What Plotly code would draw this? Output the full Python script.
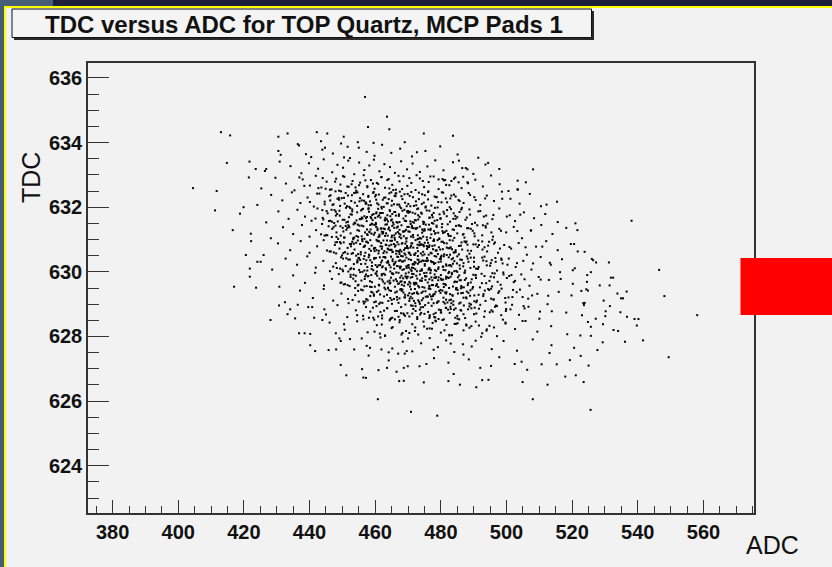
import plotly.graph_objects as go

# ---------------- data (read / estimated from the picture) ----------------
title_text = "TDC versus ADC for TOP Quartz, MCP Pads 1"
x_title = "ADC"
y_title = "TDC"
x_range = [372.5, 575.4]
y_range = [622.54, 636.46]

# isolated points around the edges of the cloud
adc_sparse = [456.9, 463.6, 457.8, 464.3, 413.0, 415.8, 474.8, 430.5, 433.3, 442.2, 445.4, 443.5, 450.4, 454.7,
              459.5, 469.0, 436.4, 444.7, 451.6, 430.5, 472.7, 438.9, 450.5, 414.8, 421.7, 423.6, 426.8, 411.7,
              411.2, 416.6, 418.8, 419.9, 421.5, 417.0, 420.6, 422.1, 422.2, 421.8, 421.8, 423.7, 424.1, 425.1,
              404.5,
              483.7, 485.5, 494.4, 508.1, 487.6, 488.1, 486.8, 480.5, 481.3, 483.2, 485.4, 503.5, 515.4, 512.2, 503.3,
              428.1, 430.7, 433.3, 434.1, 436.8, 438.5, 440.2, 441.7, 436.4, 439.6, 441.4, 443.9, 444.5, 448.0,
              449.1, 449.5, 448.1, 450.5, 451.2, 453.6, 456.0, 456.4, 455.9, 458.4, 461.0, 460.8, 463.6, 461.9,
              464.1, 467.0, 469.6, 468.7, 469.9, 468.7,
              470.9, 478.9, 508.0, 525.6, 467.3, 482.3, 485.8, 490.8, 492.6, 504.9, 512.5, 523.5, 517.9, 521.1,
              525.0, 515.3, 510.7, 502.5, 495.3, 522.6, 527.7, 519.3, 534.0, 536.1, 541.6, 549.4, 539.7, 536.7,
              539.0, 540.2, 558.1, 534.7, 548.1, 536.6, 534.9, 535.5, 529.4, 528.4, 531.5, 530.2, 531.2, 546.5,
              538.1, 531.8, 532.5, 526.0, 526.4, 525.7, 524.5, 522.8, 523.8, 523.0, 525.7, 527.2, 525.7, 522.5,
              521.0, 521.6, 520.6, 521.7, 520.2, 524.8, 523.4]
tdc_sparse = [635.41, 634.80, 634.48, 634.41, 634.32, 634.22, 634.28, 634.18, 634.28, 634.32, 634.28, 634.04, 634.18, 634.01,
              633.99, 634.01, 633.95, 633.84, 633.87, 633.74, 633.70, 633.64, 633.54, 633.37, 633.41, 633.18, 633.18, 632.50,
              631.90, 631.29, 631.80, 632.00, 632.92, 629.54, 630.52, 631.18, 630.95, 630.10, 629.85, 629.51, 630.31, 630.31,
              632.59,
              634.21, 633.44, 633.37, 633.17, 633.21, 633.17, 632.94, 632.87, 632.84, 632.81, 632.77, 632.55, 632.17, 632.08, 632.55,
              628.51, 628.96, 628.69, 628.84, 628.10, 628.10, 627.73, 627.55, 628.98, 628.91, 628.58, 628.51, 628.84, 628.10,
              627.94, 627.86, 627.60, 628.38, 626.80, 627.60, 626.99, 626.73, 627.94, 627.65, 626.96, 626.06, 627.03, 627.60,
              627.51, 627.47, 627.55, 627.03, 627.08, 626.63,
              625.67, 625.55, 626.06, 625.73, 626.62, 626.62, 626.51, 626.43, 626.65, 626.59, 626.51, 626.59, 626.76, 626.80,
              627.10, 627.14, 627.14, 627.15, 627.09, 627.40, 627.58, 627.27, 628.17, 627.84, 627.88, 627.36, 628.34, 628.61,
              628.54, 628.54, 628.66, 628.75, 629.25, 629.39, 629.18, 629.18, 628.38, 629.58, 628.94, 628.78, 630.29, 630.06,
              631.58, 629.82, 629.82, 630.40, 630.36, 629.99, 629.69, 629.41, 629.04, 628.66, 628.30, 628.55, 628.02, 628.03,
              631.50, 631.29, 630.86, 630.63, 630.05, 629.42, 629.03]

# main body of the cloud, band by band (TDC bands of 0.5)
adc_bands = [
    [431.2, 436.8, 440.5, 443.9, 447.1, 449.6, 452.3, 455.0, 457.4, 459.8, 462.1, 464.9, 467.6, 471.2, 475.3, 479.8, 485.1, 491.4],
    [426.4, 430.9, 434.2, 437.5, 439.8, 442.6, 444.3, 446.9, 448.5, 450.2, 451.8, 453.6, 455.1, 456.7, 458.2, 459.6,
     461.3, 462.8, 464.5, 466.0, 467.9, 469.7, 471.4, 473.6, 475.9, 478.3, 480.8, 483.7, 486.5, 489.9, 493.6, 497.8],
    [425.3, 429.6, 432.8, 435.4, 437.9, 440.1, 441.9, 443.6, 445.2, 446.7, 448.1, 449.4, 450.6, 451.9, 453.1, 454.2,
     455.4, 456.5, 457.6, 458.7, 459.8, 460.9, 461.9, 463.0, 464.1, 465.2, 466.3, 467.4, 468.6, 469.8, 471.0, 472.3,
     473.6, 474.9, 476.3, 477.8, 479.3, 480.9, 482.6, 484.4, 486.3, 488.3, 490.5, 492.8, 495.3, 497.9, 500.6, 503.4,
     505.9, 444.0],
    [424.1, 428.3, 431.7, 434.6, 437.2, 439.4, 441.3, 443.0, 444.6, 446.0, 447.3, 448.5, 449.6, 450.7, 451.7, 452.7,
     453.6, 454.5, 455.4, 456.3, 457.1, 457.9, 458.7, 459.5, 460.3, 461.1, 461.9, 462.7, 463.5, 464.3, 465.1, 465.9,
     466.7, 467.5, 468.3, 469.1, 469.9, 470.7, 471.5, 472.4, 473.3, 474.2, 475.1, 476.1, 477.1, 478.1, 479.2, 480.3,
     481.5, 482.7, 484.0, 485.4, 486.9, 488.5, 490.2, 492.0, 494.0, 496.2, 498.6, 501.2, 504.0, 507.1, 510.5, 448.9, 466.2],
    [426.8, 430.5, 433.6, 436.3, 438.6, 440.6, 442.4, 444.0, 445.5, 446.8, 448.0, 449.1, 450.1, 451.1, 452.0, 452.9,
     453.7, 454.5, 455.3, 456.0, 456.7, 457.4, 458.1, 458.8, 459.5, 460.2, 460.9, 461.6, 462.3, 463.0, 463.7, 464.4,
     465.1, 465.8, 466.5, 467.2, 467.9, 468.6, 469.3, 470.0, 470.7, 471.4, 472.1, 472.8, 473.5, 474.2, 474.9, 475.7,
     476.5, 477.3, 478.1, 479.0, 479.9, 480.8, 481.8, 482.8, 483.9, 485.0, 486.2, 487.5, 488.9, 490.4, 492.0, 493.8,
     495.7, 497.8, 500.1, 502.6, 505.3, 508.4, 511.8, 515.6, 447.6, 455.9, 461.2, 464.8, 469.7, 473.1, 477.8, 484.4],
    [428.2, 431.9, 435.0, 437.7, 440.0, 442.0, 443.8, 445.4, 446.9, 448.2, 449.4, 450.5, 451.5, 452.5, 453.4, 454.3,
     455.1, 455.9, 456.7, 457.5, 458.2, 458.9, 459.6, 460.3, 461.0, 461.7, 462.4, 463.1, 463.8, 464.5, 465.2, 465.9,
     466.6, 467.3, 468.0, 468.7, 469.4, 470.1, 470.8, 471.5, 472.2, 472.9, 473.6, 474.3, 475.0, 475.7, 476.4, 477.1,
     477.9, 478.7, 479.5, 480.3, 481.2, 482.1, 483.0, 484.0, 485.0, 486.1, 487.2, 488.4, 489.7, 491.1, 492.6, 494.2,
     495.9, 497.8, 499.9, 502.2, 504.7, 507.5, 510.6, 514.0, 518.2, 444.6, 451.0, 454.8, 458.6, 462.0, 465.6, 467.7,
     471.1, 473.2, 476.8, 480.7, 485.6, 490.3, 460.7, 469.0, 474.7, 478.2],
    [426.0, 430.4, 434.1, 437.3, 440.0, 442.3, 444.3, 446.1, 447.7, 449.1, 450.4, 451.6, 452.7, 453.7, 454.7, 455.6,
     456.5, 457.3, 458.1, 458.9, 459.7, 460.4, 461.1, 461.8, 462.5, 463.2, 463.9, 464.6, 465.3, 466.0, 466.7, 467.4,
     468.1, 468.8, 469.5, 470.2, 470.9, 471.6, 472.3, 473.0, 473.7, 474.4, 475.1, 475.8, 476.5, 477.2, 477.9, 478.6,
     479.4, 480.2, 481.0, 481.8, 482.7, 483.6, 484.5, 485.5, 486.5, 487.6, 488.7, 489.9, 491.2, 492.6, 494.1, 495.7,
     497.4, 499.3, 501.4, 503.7, 506.2, 509.0, 512.1, 515.6, 519.6, 523.8, 448.4, 453.2, 456.9, 460.0, 463.6, 466.4,
     469.2, 472.0, 474.8, 477.6, 480.6, 484.1, 488.1, 493.3, 458.5, 465.0, 470.5, 476.1, 482.3, 467.0, 473.4],
    [428.6, 432.7, 436.2, 439.3, 441.9, 444.2, 446.2, 448.0, 449.6, 451.0, 452.3, 453.5, 454.6, 455.7, 456.7, 457.6,
     458.5, 459.4, 460.2, 461.0, 461.8, 462.5, 463.2, 463.9, 464.6, 465.3, 466.0, 466.7, 467.4, 468.1, 468.8, 469.5,
     470.2, 470.9, 471.6, 472.3, 473.0, 473.7, 474.4, 475.1, 475.8, 476.5, 477.2, 477.9, 478.6, 479.3, 480.0, 480.8,
     481.6, 482.4, 483.2, 484.1, 485.0, 485.9, 486.9, 487.9, 489.0, 490.1, 491.3, 492.6, 494.0, 495.5, 497.1, 498.8,
     500.7, 502.8, 505.1, 507.6, 510.4, 513.5, 516.9, 520.8, 527.3, 450.2, 455.1, 459.0, 462.1, 465.7, 468.4, 471.2,
     474.0, 476.9, 479.7, 482.9, 486.4, 490.7, 495.2, 461.4, 467.8, 473.4, 478.2, 483.7, 469.9, 475.5, 457.0],
    [430.8, 435.0, 438.6, 441.7, 444.4, 446.8, 448.9, 450.8, 452.5, 454.0, 455.4, 456.7, 457.9, 459.0, 460.1, 461.1,
     462.1, 463.0, 463.9, 464.8, 465.6, 466.4, 467.2, 468.0, 468.8, 469.6, 470.4, 471.2, 472.0, 472.8, 473.6, 474.4,
     475.2, 476.0, 476.8, 477.6, 478.4, 479.2, 480.0, 480.8, 481.6, 482.5, 483.4, 484.3, 485.2, 486.2, 487.2, 488.3,
     489.4, 490.6, 491.9, 493.3, 494.8, 496.4, 498.2, 500.1, 502.2, 504.5, 507.0, 509.8, 512.9, 516.3, 520.2, 524.6,
     531.4, 453.3, 458.4, 462.6, 466.0, 469.2, 472.4, 475.6, 478.8, 482.0, 485.7, 489.9, 495.6, 460.6, 467.7, 474.9,
     481.3, 487.7, 464.4, 471.7, 477.3, 483.0, 449.7, 499.0, 470.7, 476.5],
    [432.5, 437.1, 441.0, 444.3, 447.2, 449.7, 451.9, 453.9, 455.7, 457.3, 458.8, 460.2, 461.5, 462.7, 463.9, 465.0,
     466.1, 467.1, 468.1, 469.1, 470.0, 470.9, 471.8, 472.7, 473.6, 474.5, 475.4, 476.3, 477.2, 478.1, 479.0, 479.9,
     480.8, 481.7, 482.6, 483.6, 484.6, 485.6, 486.7, 487.8, 489.0, 490.2, 491.5, 492.9, 494.4, 496.0, 497.8, 499.7,
     501.8, 504.1, 506.6, 509.4, 512.5, 515.9, 519.8, 524.3, 529.6, 533.8, 456.4, 461.0, 464.6, 468.6, 472.2, 475.9,
     479.5, 483.1, 486.2, 490.8, 495.3, 500.6, 466.6, 473.1, 477.7, 481.2, 485.1, 470.5, 488.4, 459.6, 476.8, 493.6],
    [435.6, 440.8, 445.0, 448.5, 451.5, 454.1, 456.4, 458.5, 460.4, 462.1, 463.7, 465.2, 466.6, 467.9, 469.2, 470.4,
     471.6, 472.8, 473.9, 475.0, 476.1, 477.2, 478.3, 479.4, 480.5, 481.6, 482.7, 483.8, 485.0, 486.2, 487.4, 488.7,
     490.1, 491.6, 493.2, 494.9, 496.8, 498.9, 501.2, 503.8, 506.7, 510.0, 513.8, 518.2, 523.6, 530.1, 459.3, 464.4,
     468.6, 472.3, 476.6, 480.0, 484.4, 489.3, 495.8, 470.9, 478.0, 482.2, 466.0, 474.6, 486.9, 499.8],
    [440.2, 446.1, 450.7, 454.5, 457.7, 460.5, 463.0, 465.3, 467.4, 469.4, 471.3, 473.1, 474.9, 476.6, 478.3, 480.0,
     481.7, 483.4, 485.1, 486.9, 488.7, 490.6, 492.6, 494.8, 497.1, 499.7, 502.6, 505.8, 509.4, 513.6, 518.5, 524.8,
     532.6, 462.0, 468.3, 472.2, 477.5, 482.6, 487.8, 493.9, 475.8, 484.2],
    [445.8, 452.3, 457.4, 461.6, 465.2, 468.4, 471.3, 474.0, 476.6, 479.1, 481.6, 484.1, 486.7, 489.4, 492.3, 495.5,
     499.1, 503.2, 508.0, 513.7, 520.6, 529.3, 470.0, 477.8, 483.0, 490.6],
    [449.5, 458.0, 464.1, 469.0, 473.5, 477.9, 482.3, 486.9, 492.0, 497.8, 504.6, 513.1, 475.6, 488.5],
    [457.2, 466.5, 474.8, 483.9, 494.5, 506.3],
    # denser core
    [446.3, 471.8, 452.9, 480.2, 459.4, 465.7, 449.8, 476.1, 462.6, 484.5, 455.2, 468.9, 458.0, 473.3, 447.9, 463.8,
     478.7, 451.4, 466.2, 456.6, 470.5, 461.0, 482.9, 454.1, 474.8, 460.2, 467.5, 449.0, 464.9, 457.3],
    [444.2, 468.3, 451.7, 479.6, 457.9, 463.1, 447.5, 474.0, 460.8, 486.4, 454.3, 470.6, 449.2, 465.4, 481.9, 456.1,
     472.2, 445.9, 462.0, 477.5, 453.0, 466.8, 459.1, 488.7, 450.6, 469.9, 458.6, 475.3, 463.9, 448.4, 483.8, 455.7,
     471.4, 461.5, 467.2, 452.4, 478.9, 464.5, 457.2, 473.1, 446.7, 469.0, 460.3, 476.6, 466.1],
    [445.1, 470.2, 453.6, 481.7, 459.8, 466.3, 448.7, 476.9, 462.4, 489.5, 455.9, 472.8, 450.3, 467.9, 484.6, 457.5,
     474.3, 446.8, 463.6, 479.2, 452.1, 469.4, 460.7, 492.8, 449.5, 471.5, 458.3, 477.7, 465.0, 451.2, 486.9, 456.4,
     473.6, 461.9, 468.6, 454.7, 482.4, 464.2, 458.9, 475.1, 447.9, 470.9, 462.9, 478.4, 466.9, 453.3, 480.5, 459.2,
     473.0, 465.8, 456.9, 484.1, 469.8, 461.3, 476.2, 451.8, 467.4, 474.7, 463.3, 493.6],
    [446.5, 471.3, 454.8, 483.0, 461.2, 467.6, 449.9, 478.1, 463.8, 491.4, 457.0, 474.2, 451.6, 469.2, 486.3, 458.7,
     475.7, 448.1, 465.1, 480.6, 453.5, 470.8, 462.1, 494.7, 450.8, 472.9, 459.6, 479.0, 466.4, 452.6, 488.2, 457.8,
     475.0, 463.4, 470.0, 456.1, 483.9, 465.7, 460.4, 476.4, 449.3, 472.3, 464.3, 479.8, 468.3, 454.2, 481.8, 460.9,
     474.6, 467.1, 458.2, 485.5, 471.0, 462.8, 477.4, 453.0, 468.9, 476.0, 464.8, 496.5, 447.4, 473.8, 469.6, 466.0,
     482.8, 455.4, 478.7, 461.6, 487.2, 470.3],
    [448.3, 473.2, 456.7, 484.9, 463.1, 469.5, 451.8, 480.0, 465.7, 493.3, 458.9, 476.1, 453.5, 471.1, 488.2, 460.6,
     477.6, 450.0, 467.0, 482.5, 455.4, 472.7, 464.0, 496.6, 452.7, 474.8, 461.5, 480.9, 468.3, 454.5, 490.1, 459.7,
     476.9, 465.3, 471.9, 458.0, 485.8, 467.6, 462.3, 478.3, 451.2, 474.2, 466.2, 481.7, 470.2, 456.1, 483.7, 462.8,
     476.5, 469.0, 460.1, 487.4, 472.9, 464.7, 479.3, 454.9, 470.8, 477.9, 466.7, 498.4, 449.3, 475.7, 471.5, 467.9,
     484.7, 457.3, 480.6, 463.5, 489.1, 472.2],
    [450.4, 475.6, 458.9, 487.3, 465.5, 471.8, 453.9, 482.4, 468.0, 495.7, 461.2, 478.5, 455.8, 473.4, 490.6, 462.9,
     480.0, 452.2, 469.3, 484.9, 457.7, 475.0, 466.3, 499.1, 454.9, 477.1, 463.8, 483.3, 470.6, 456.8, 492.5, 462.0,
     479.2, 467.6, 474.2, 460.3, 488.2, 469.9, 464.6, 480.7, 453.4, 476.5, 468.5, 484.1, 472.5, 458.4, 486.1, 465.1,
     478.8, 471.3, 462.4, 489.8, 475.2, 467.0, 481.6, 457.2, 473.1, 480.2, 469.0, 501.5, 451.6, 478.0, 473.8, 470.2,
     487.0],
    [453.1, 478.4, 461.6, 490.2, 468.3, 474.6, 456.6, 485.2, 470.8, 498.5, 464.0, 481.3, 458.5, 476.2, 493.4, 465.7,
     482.8, 455.0, 472.1, 487.7, 460.5, 477.8, 469.1, 502.0, 457.7, 479.9, 466.6, 486.1, 473.4, 459.6, 495.3, 464.8,
     482.0, 470.4, 477.0, 463.1, 491.0, 472.7, 467.4, 483.5, 456.2, 479.3, 471.3, 486.9, 475.3, 461.2, 488.9, 467.9,
     481.6, 474.1],
    [456.3, 481.5, 464.8, 493.4, 471.4, 477.8, 459.7, 488.3, 474.0, 501.7, 467.1, 484.5, 461.6, 479.3, 496.5, 468.8,
     486.0, 458.1, 475.2, 490.8, 463.6, 480.9, 472.3, 505.2, 460.9, 483.0, 469.8, 489.2, 476.5, 462.7, 498.4, 467.9,
     485.1, 473.6, 480.1],
    [459.8, 484.6, 468.0, 496.2, 474.7, 481.1, 463.0, 491.6, 477.3, 504.9, 470.4, 487.7, 465.0, 482.6, 499.7, 472.1,
     489.3, 461.4, 478.5, 494.0],
    # wider dense layer (632.5-633.0 down to 628.5-629.0)
    [438.4, 461.9, 446.2, 474.5, 452.8, 467.1, 442.7, 479.3, 457.6, 488.1, 449.0, 470.4, 455.1, 463.7, 444.9, 476.8,
     459.3, 451.5, 484.0, 465.5, 447.8, 472.6, 454.0, 460.5, 436.9, 468.2, 457.0, 481.6, 450.2, 464.3],
    [440.1, 466.4, 449.3, 478.6, 455.9, 471.0, 444.6, 483.2, 460.6, 493.5, 452.1, 474.3, 458.4, 468.0, 447.0, 480.7,
     462.3, 453.8, 488.9, 469.6, 450.5, 476.2, 457.1, 464.1, 442.3, 472.5, 460.0, 485.7, 454.6, 467.3, 498.7, 446.4,
     475.4, 463.1, 481.9, 451.0, 470.1, 457.9, 490.6, 465.0],
    [441.8, 468.9, 451.2, 481.0, 457.5, 473.1, 446.3, 485.7, 462.9, 496.0, 453.9, 476.5, 460.0, 470.2, 448.6, 483.1,
     464.6, 455.6, 491.4, 471.8, 452.5, 478.2, 459.2, 466.3, 443.9, 474.6, 461.8, 487.9, 456.3, 469.4, 501.0, 448.0,
     477.3, 465.2, 484.5, 453.0, 472.4, 460.4, 493.1, 467.4, 445.2, 479.9, 458.0, 463.6, 504.2],
    [443.5, 471.2, 453.3, 483.6, 459.9, 475.4, 448.2, 488.0, 465.1, 498.3, 456.0, 478.7, 462.2, 472.4, 450.7, 485.4,
     466.9, 457.7, 493.7, 474.0, 454.6, 480.4, 461.3, 468.5, 445.8, 476.8, 464.0, 490.2, 458.5, 471.6, 503.3, 450.1,
     479.5, 467.4, 486.7, 455.2, 474.6, 462.6, 495.4, 469.6, 447.3, 482.2, 460.2, 465.8, 507.4, 452.0, 477.9, 470.5,
     489.1, 463.0],
    [445.3, 473.5, 455.6, 486.1, 462.0, 477.7, 450.3, 490.6, 467.3, 500.9, 458.2, 481.0, 464.4, 474.7, 452.8, 487.8,
     469.1, 459.8, 496.2, 476.3, 456.7, 482.7, 463.5, 470.7, 447.9, 479.1, 466.2, 492.7, 460.7, 473.9, 505.8, 452.3,
     481.8, 469.7, 489.2, 457.4, 476.9, 464.9, 498.0, 471.9, 449.5, 484.5, 462.5, 468.0, 510.9, 454.2, 480.2, 472.8,
     491.6, 465.3, 483.4, 475.8, 461.0, 494.4, 478.4],
    [447.2, 475.8, 457.6, 488.4, 464.3, 480.0, 452.4, 492.9, 469.6, 503.2, 460.5, 483.3, 466.7, 477.0, 455.1, 490.1,
     471.4, 462.1, 498.5, 478.6, 459.0, 485.0, 465.8, 473.0, 450.2, 481.4, 468.5, 495.0, 463.0, 476.2, 508.1, 454.6,
     484.1, 472.0, 491.5, 459.7, 479.2, 467.2, 500.3, 474.2, 451.8, 486.8, 464.8, 470.3, 513.2, 456.5, 482.5, 475.1,
     493.9, 467.6, 485.7, 478.1, 463.3, 496.7, 480.7],
    [449.4, 478.1, 459.9, 490.7, 466.6, 482.3, 454.7, 495.2, 471.9, 505.5, 462.8, 485.6, 469.0, 479.3, 457.4, 492.4,
     473.7, 464.4, 500.8, 480.9, 461.3, 487.3, 468.1, 475.3, 452.5, 483.7, 470.8, 497.3, 465.3, 478.5, 510.4, 456.9,
     486.4, 474.3, 493.8, 462.0, 481.5, 469.5, 502.6, 476.5, 454.1, 489.1, 467.1, 472.6, 516.5, 458.8, 484.8, 477.4,
     496.2, 470.0],
    [451.7, 480.5, 462.2, 493.0, 468.9, 484.6, 457.0, 497.5, 474.2, 507.8, 465.1, 487.9, 471.3, 481.6, 459.7, 494.7,
     476.0, 466.7, 503.1, 483.2, 463.6, 489.6, 470.4, 477.6, 454.8, 486.0, 473.1, 499.6, 467.6, 480.8, 512.7, 459.2,
     488.7, 476.6, 496.1, 464.3, 483.8, 471.8, 504.9, 478.8],
    [454.5, 482.9, 464.6, 495.4, 471.3, 487.0, 459.4, 499.9, 476.6, 510.2, 467.5, 490.3, 473.7, 484.0, 462.1, 497.1,
     478.4, 469.1, 505.5, 485.6, 466.0, 492.0, 472.8, 480.0, 457.2],
]
tdc_bands = [
    [633.62, 633.91, 633.55, 633.78, 633.66, 633.97, 633.52, 633.84, 633.71, 633.59, 633.93, 633.68, 633.81, 633.57,
     633.74, 633.88, 633.63, 633.53],
    [633.12, 633.41, 633.27, 633.05, 633.36, 633.19, 633.48, 633.08, 633.31, 633.22, 633.44, 633.02, 633.38, 633.15,
     633.29, 633.47, 633.11, 633.33, 633.24, 633.06, 633.42, 633.17, 633.35, 633.09, 633.26, 633.45, 633.14, 633.39,
     633.21, 633.03, 633.32, 633.18],
    [632.58, 632.91, 632.73, 632.52, 632.86, 632.67, 632.97, 632.61, 632.79, 632.55, 632.88, 632.70, 632.94, 632.63,
     632.81, 632.51, 632.76, 632.99, 632.65, 632.84, 632.57, 632.72, 632.93, 632.60, 632.87, 632.69, 632.54, 632.80,
     632.96, 632.66, 632.75, 632.53, 632.89, 632.62, 632.78, 632.95, 632.56, 632.83, 632.68, 632.92, 632.59, 632.74,
     632.85, 632.64, 632.98, 632.71, 632.50, 632.82, 632.77, 632.90],
    [632.07, 632.38, 632.21, 632.46, 632.13, 632.30, 632.02, 632.42, 632.17, 632.34, 632.09, 632.26, 632.49, 632.11,
     632.36, 632.19, 632.44, 632.04, 632.28, 632.40, 632.15, 632.32, 632.06, 632.47, 632.23, 632.39, 632.01, 632.29,
     632.12, 632.43, 632.20, 632.35, 632.08, 632.48, 632.25, 632.14, 632.41, 632.03, 632.31, 632.18, 632.45, 632.10,
     632.37, 632.24, 632.05, 632.33, 632.16, 632.46, 632.27, 632.00, 632.39, 632.22, 632.13, 632.44, 632.31, 632.07,
     632.36, 632.19, 632.48, 632.26, 632.11, 632.41, 632.03, 632.29, 632.34],
    [631.53, 631.87, 631.64, 631.92, 631.71, 631.58, 631.96, 631.67, 631.81, 631.55, 631.74, 631.89, 631.61, 631.98,
     631.69, 631.77, 631.52, 631.84, 631.63, 631.93, 631.72, 631.57, 631.86, 631.66, 631.79, 631.51, 631.95, 631.68,
     631.82, 631.59, 631.75, 631.91, 631.62, 631.85, 631.54, 631.78, 631.97, 631.65, 631.73, 631.88, 631.56, 631.83,
     631.60, 631.94, 631.70, 631.80, 631.53, 631.90, 631.67, 631.76, 631.58, 631.99, 631.64, 631.86, 631.72, 631.55,
     631.81, 631.69, 631.93, 631.61, 631.77, 631.52, 631.88, 631.74, 631.63, 631.96, 631.71, 631.57, 631.84, 631.66,
     631.79, 631.54, 631.91, 631.68, 631.75, 631.59, 631.87, 631.62, 631.82, 631.73],
    [631.04, 631.38, 631.17, 631.45, 631.09, 631.29, 631.48, 631.13, 631.33, 631.22, 631.41, 631.06, 631.36, 631.19,
     631.47, 631.11, 631.27, 631.43, 631.02, 631.31, 631.24, 631.49, 631.15, 631.39, 631.08, 631.34, 631.20, 631.46,
     631.12, 631.28, 631.42, 631.05, 631.37, 631.18, 631.44, 631.10, 631.30, 631.25, 631.48, 631.14, 631.35, 631.01,
     631.40, 631.21, 631.32, 631.07, 631.46, 631.16, 631.26, 631.43, 631.03, 631.38, 631.23, 631.47, 631.11, 631.30,
     631.19, 631.41, 631.06, 631.35, 631.27, 631.44, 631.13, 631.49, 631.09, 631.33, 631.22, 631.39, 631.04, 631.28,
     631.45, 631.17, 631.36, 631.12, 631.42, 631.08, 631.31, 631.24, 631.47, 631.15, 631.37, 631.02, 631.29, 631.20,
     631.43, 631.10, 631.34, 631.26, 631.48, 631.18],
    [630.52, 630.88, 630.67, 630.95, 630.59, 630.79, 630.98, 630.63, 630.83, 630.72, 630.91, 630.56, 630.86, 630.69,
     630.97, 630.61, 630.77, 630.93, 630.53, 630.81, 630.74, 630.99, 630.65, 630.89, 630.58, 630.84, 630.70, 630.96,
     630.62, 630.78, 630.92, 630.55, 630.87, 630.68, 630.94, 630.60, 630.80, 630.75, 630.98, 630.64, 630.85, 630.51,
     630.90, 630.71, 630.82, 630.57, 630.96, 630.66, 630.76, 630.93, 630.54, 630.88, 630.73, 630.97, 630.61, 630.80,
     630.69, 630.91, 630.56, 630.85, 630.77, 630.94, 630.63, 630.99, 630.59, 630.83, 630.72, 630.89, 630.53, 630.78,
     630.95, 630.67, 630.86, 630.62, 630.92, 630.58, 630.81, 630.74, 630.97, 630.65, 630.87, 630.52, 630.79, 630.70,
     630.93, 630.60, 630.84, 630.76, 630.98, 630.68, 630.57, 630.90, 630.73, 630.64, 630.82],
    [630.07, 630.41, 630.22, 630.48, 630.13, 630.34, 630.02, 630.27, 630.45, 630.18, 630.38, 630.09, 630.31, 630.24,
     630.49, 630.15, 630.36, 630.05, 630.43, 630.20, 630.29, 630.46, 630.11, 630.33, 630.01, 630.39, 630.26, 630.47,
     630.16, 630.32, 630.08, 630.44, 630.21, 630.37, 630.12, 630.28, 630.49, 630.03, 630.35, 630.19, 630.42, 630.10,
     630.30, 630.25, 630.47, 630.14, 630.40, 630.06, 630.23, 630.45, 630.17, 630.33, 630.00, 630.38, 630.27, 630.48,
     630.12, 630.31, 630.09, 630.44, 630.20, 630.36, 630.04, 630.26, 630.41, 630.15, 630.34, 630.07, 630.46, 630.22,
     630.39, 630.11, 630.29, 630.02, 630.43, 630.18, 630.35, 630.24, 630.48, 630.13, 630.32, 630.06, 630.40, 630.21,
     630.37, 630.10, 630.27, 630.45, 630.16, 630.30, 630.05, 630.42, 630.19, 630.34, 630.25],
    [629.54, 629.89, 629.66, 629.97, 629.58, 629.78, 629.93, 629.62, 629.84, 629.71, 629.99, 629.55, 629.87, 629.68,
     629.95, 629.60, 629.76, 629.91, 629.51, 629.82, 629.73, 629.98, 629.64, 629.88, 629.57, 629.80, 629.69, 629.94,
     629.61, 629.79, 629.92, 629.53, 629.86, 629.67, 629.96, 629.59, 629.81, 629.74, 629.90, 629.63, 629.85, 629.50,
     629.93, 629.70, 629.83, 629.56, 629.97, 629.65, 629.77, 629.89, 629.52, 629.87, 629.72, 629.95, 629.60, 629.81,
     629.68, 629.92, 629.57, 629.84, 629.75, 629.99, 629.63, 629.90, 629.58, 629.79, 629.71, 629.94, 629.54, 629.86,
     629.66, 629.97, 629.61, 629.83, 629.74, 629.91, 629.55, 629.88, 629.69, 629.96, 629.62, 629.80, 629.73, 629.93,
     629.59, 629.85, 629.67, 629.98, 629.64, 629.77],
    [629.06, 629.42, 629.19, 629.47, 629.11, 629.33, 629.03, 629.28, 629.45, 629.16, 629.38, 629.08, 629.30, 629.24,
     629.49, 629.13, 629.36, 629.04, 629.41, 629.21, 629.27, 629.46, 629.10, 629.34, 629.01, 629.39, 629.23, 629.48,
     629.15, 629.31, 629.07, 629.44, 629.20, 629.37, 629.12, 629.26, 629.49, 629.02, 629.35, 629.18, 629.43, 629.09,
     629.29, 629.25, 629.47, 629.14, 629.40, 629.05, 629.22, 629.45, 629.17, 629.32, 629.00, 629.38, 629.27, 629.46,
     629.11, 629.33, 629.08, 629.42, 629.19, 629.36, 629.03, 629.24, 629.41, 629.14, 629.34, 629.06, 629.48, 629.21,
     629.39, 629.12, 629.30, 629.02, 629.44, 629.17, 629.35, 629.26, 629.47, 629.10],
    [628.56, 628.91, 628.68, 628.97, 628.60, 628.81, 628.53, 628.77, 628.94, 628.65, 628.87, 628.58, 628.79, 628.72,
     628.99, 628.62, 628.85, 628.54, 628.90, 628.70, 628.76, 628.95, 628.59, 628.83, 628.51, 628.88, 628.73, 628.98,
     628.64, 628.80, 628.57, 628.93, 628.69, 628.86, 628.61, 628.75, 628.96, 628.52, 628.84, 628.67, 628.92, 628.55,
     628.78, 628.74, 628.97, 628.63, 628.89, 628.50, 628.71, 628.94, 628.66, 628.82, 628.58, 628.87, 628.77, 628.96,
     628.60, 628.83, 628.53, 628.91, 628.69, 628.79],
    [628.08, 628.43, 628.21, 628.47, 628.13, 628.35, 628.02, 628.29, 628.44, 628.17, 628.38, 628.06, 628.31, 628.25,
     628.49, 628.12, 628.36, 628.04, 628.41, 628.19, 628.27, 628.46, 628.10, 628.33, 628.01, 628.40, 628.23, 628.48,
     628.15, 628.32, 628.07, 628.45, 628.20, 628.37, 628.11, 628.28, 628.42, 628.03, 628.34, 628.18, 628.24, 628.39],
    [627.58, 627.92, 627.71, 627.97, 627.63, 627.84, 627.54, 627.79, 627.95, 627.67, 627.88, 627.52, 627.76, 627.69,
     627.99, 627.61, 627.86, 627.56, 627.91, 627.73, 627.65, 627.82, 627.94, 627.59, 627.78, 627.87],
    [627.12, 627.41, 627.26, 627.47, 627.08, 627.33, 627.19, 627.44, 627.03, 627.36, 627.22, 627.49, 627.15, 627.29],
    [626.72, 626.91, 626.58, 626.84, 626.66, 626.97],
    # denser core
    [632.21, 632.04, 632.37, 632.15, 632.44, 632.09, 632.28, 632.47, 632.01, 632.33, 632.18, 632.40, 632.06, 632.25,
     632.49, 632.12, 632.31, 632.03, 632.42, 632.20, 632.35, 632.08, 632.27, 632.45, 632.14, 632.38, 632.02, 632.23,
     632.46, 632.11],
    [631.62, 631.89, 631.55, 631.78, 631.94, 631.67, 631.51, 631.83, 631.71, 631.98, 631.59, 631.86, 631.74, 631.53,
     631.91, 631.65, 631.80, 631.57, 631.96, 631.69, 631.87, 631.52, 631.76, 631.93, 631.61, 631.84, 631.70, 631.99,
     631.56, 631.79, 631.64, 631.90, 631.54, 631.82, 631.73, 631.97, 631.60, 631.88, 631.66, 631.75, 631.92, 631.58,
     631.81, 631.68, 631.85],
    [631.14, 631.39, 631.06, 631.27, 631.45, 631.19, 631.02, 631.33, 631.23, 631.48, 631.10, 631.36, 631.25, 631.04,
     631.42, 631.16, 631.31, 631.08, 631.47, 631.21, 631.38, 631.03, 631.29, 631.44, 631.12, 631.35, 631.22, 631.49,
     631.07, 631.30, 631.17, 631.41, 631.05, 631.34, 631.24, 631.46, 631.11, 631.37, 631.18, 631.28, 631.43, 631.09,
     631.32, 631.20, 631.40, 631.01, 631.26, 631.47, 631.13, 631.36, 631.22, 631.05, 631.39, 631.15, 631.31, 631.44,
     631.08, 631.27, 631.19, 631.42],
    [630.63, 630.88, 630.55, 630.76, 630.94, 630.68, 630.51, 630.82, 630.72, 630.97, 630.59, 630.85, 630.74, 630.53,
     630.91, 630.65, 630.80, 630.57, 630.96, 630.70, 630.87, 630.52, 630.78, 630.93, 630.61, 630.84, 630.71, 630.98,
     630.56, 630.79, 630.66, 630.90, 630.54, 630.83, 630.73, 630.95, 630.60, 630.86, 630.67, 630.77, 630.92, 630.58,
     630.81, 630.69, 630.89, 630.50, 630.75, 630.96, 630.62, 630.85, 630.71, 630.54, 630.88, 630.64, 630.80, 630.93,
     630.57, 630.76, 630.68, 630.91, 630.60, 630.83, 630.74, 630.99, 630.53, 630.86, 630.66, 630.79, 630.94, 630.58],
    [630.12, 630.37, 630.04, 630.26, 630.44, 630.17, 630.01, 630.32, 630.22, 630.47, 630.09, 630.35, 630.24, 630.03,
     630.41, 630.15, 630.30, 630.07, 630.46, 630.20, 630.37, 630.02, 630.28, 630.43, 630.11, 630.34, 630.21, 630.48,
     630.06, 630.29, 630.16, 630.40, 630.04, 630.33, 630.23, 630.45, 630.10, 630.36, 630.17, 630.27, 630.42, 630.08,
     630.31, 630.19, 630.39, 630.00, 630.25, 630.46, 630.12, 630.35, 630.21, 630.04, 630.38, 630.14, 630.30, 630.43,
     630.07, 630.26, 630.18, 630.41, 630.10, 630.33, 630.24, 630.49, 630.03, 630.36, 630.16, 630.29, 630.44, 630.08],
    [629.61, 629.86, 629.53, 629.75, 629.93, 629.66, 629.50, 629.81, 629.71, 629.96, 629.58, 629.84, 629.73, 629.52,
     629.90, 629.64, 629.79, 629.56, 629.95, 629.69, 629.86, 629.51, 629.77, 629.92, 629.60, 629.83, 629.70, 629.97,
     629.55, 629.78, 629.65, 629.89, 629.53, 629.82, 629.72, 629.94, 629.59, 629.85, 629.66, 629.76, 629.91, 629.57,
     629.80, 629.68, 629.88, 629.54, 629.74, 629.95, 629.61, 629.84, 629.70, 629.53, 629.87, 629.63, 629.79, 629.92,
     629.56, 629.75, 629.67, 629.90, 629.59, 629.82, 629.73, 629.98, 629.52],
    [629.13, 629.38, 629.05, 629.27, 629.45, 629.18, 629.02, 629.33, 629.23, 629.48, 629.10, 629.36, 629.25, 629.04,
     629.42, 629.16, 629.31, 629.08, 629.47, 629.21, 629.38, 629.03, 629.29, 629.44, 629.12, 629.35, 629.22, 629.49,
     629.07, 629.30, 629.17, 629.41, 629.05, 629.34, 629.24, 629.46, 629.11, 629.37, 629.18, 629.28, 629.43, 629.09,
     629.32, 629.20, 629.40, 629.01, 629.26, 629.47, 629.14, 629.35],
    [628.64, 628.89, 628.56, 628.78, 628.95, 628.69, 628.52, 628.84, 628.73, 628.98, 628.61, 628.87, 628.76, 628.54,
     628.92, 628.67, 628.82, 628.58, 628.97, 628.71, 628.88, 628.53, 628.79, 628.94, 628.62, 628.85, 628.72, 628.99,
     628.57, 628.80, 628.66, 628.91, 628.55, 628.83, 628.74],
    [628.15, 628.39, 628.06, 628.28, 628.46, 628.19, 628.03, 628.34, 628.24, 628.48, 628.11, 628.37, 628.26, 628.05,
     628.43, 628.17, 628.32, 628.09, 628.47, 628.22],
    # wider dense layer
    [632.66, 632.93, 632.54, 632.81, 632.71, 632.97, 632.59, 632.86, 632.62, 632.77, 632.51, 632.90, 632.68, 632.84,
     632.57, 632.95, 632.73, 632.64, 632.88, 632.53, 632.79, 632.99, 632.61, 632.75, 632.92, 632.56, 632.83, 632.69,
     632.96, 632.58],
    [632.16, 632.43, 632.04, 632.31, 632.21, 632.47, 632.09, 632.36, 632.12, 632.27, 632.01, 632.40, 632.18, 632.34,
     632.07, 632.45, 632.23, 632.14, 632.38, 632.03, 632.29, 632.49, 632.11, 632.25, 632.42, 632.06, 632.33, 632.19,
     632.46, 632.08, 632.26, 632.37, 632.02, 632.30, 632.15, 632.44, 632.10, 632.35, 632.22, 632.05],
    [631.65, 631.92, 631.53, 631.80, 631.70, 631.96, 631.58, 631.85, 631.61, 631.76, 631.50, 631.89, 631.67, 631.83,
     631.56, 631.94, 631.72, 631.63, 631.87, 631.52, 631.78, 631.98, 631.60, 631.74, 631.91, 631.55, 631.82, 631.68,
     631.95, 631.57, 631.75, 631.86, 631.51, 631.79, 631.64, 631.93, 631.59, 631.84, 631.71, 631.54, 631.88, 631.66,
     631.97, 631.62, 631.77],
    [631.16, 631.42, 631.04, 631.31, 631.21, 631.46, 631.08, 631.35, 631.12, 631.27, 631.01, 631.39, 631.18, 631.33,
     631.06, 631.44, 631.23, 631.14, 631.37, 631.03, 631.29, 631.48, 631.10, 631.25, 631.41, 631.05, 631.32, 631.19,
     631.45, 631.07, 631.26, 631.36, 631.02, 631.30, 631.15, 631.43, 631.09, 631.34, 631.22, 631.04, 631.38, 631.17,
     631.47, 631.13, 631.28, 631.40, 631.00, 631.24, 631.33, 631.11],
    [630.66, 630.92, 630.54, 630.81, 630.71, 630.96, 630.58, 630.85, 630.62, 630.77, 630.51, 630.89, 630.68, 630.83,
     630.56, 630.94, 630.73, 630.64, 630.87, 630.53, 630.79, 630.98, 630.60, 630.75, 630.91, 630.55, 630.82, 630.69,
     630.95, 630.57, 630.76, 630.86, 630.52, 630.80, 630.65, 630.93, 630.59, 630.84, 630.72, 630.54, 630.88, 630.67,
     630.97, 630.63, 630.78, 630.90, 630.50, 630.74, 630.83, 630.61, 630.70, 630.99, 630.57, 630.81, 630.66],
    [630.16, 630.42, 630.04, 630.31, 630.21, 630.46, 630.08, 630.35, 630.12, 630.27, 630.01, 630.39, 630.18, 630.33,
     630.06, 630.44, 630.23, 630.14, 630.37, 630.03, 630.29, 630.48, 630.10, 630.25, 630.41, 630.05, 630.32, 630.19,
     630.45, 630.07, 630.26, 630.36, 630.02, 630.30, 630.15, 630.43, 630.09, 630.34, 630.22, 630.04, 630.38, 630.17,
     630.47, 630.13, 630.28, 630.40, 630.00, 630.24, 630.33, 630.11, 630.20, 630.49, 630.07, 630.31, 630.16],
    [629.66, 629.92, 629.54, 629.81, 629.71, 629.96, 629.58, 629.85, 629.62, 629.77, 629.51, 629.89, 629.68, 629.83,
     629.56, 629.94, 629.73, 629.64, 629.87, 629.53, 629.79, 629.98, 629.60, 629.75, 629.91, 629.55, 629.82, 629.69,
     629.95, 629.57, 629.76, 629.86, 629.52, 629.80, 629.65, 629.93, 629.59, 629.84, 629.72, 629.54, 629.88, 629.67,
     629.97, 629.63, 629.78, 629.90, 629.50, 629.74, 629.83, 629.61],
    [629.16, 629.42, 629.04, 629.31, 629.21, 629.46, 629.08, 629.35, 629.12, 629.27, 629.01, 629.39, 629.18, 629.33,
     629.06, 629.44, 629.23, 629.14, 629.37, 629.03, 629.29, 629.48, 629.10, 629.25, 629.41, 629.05, 629.32, 629.19,
     629.45, 629.07, 629.26, 629.36, 629.02, 629.30, 629.15, 629.43, 629.09, 629.34, 629.22, 629.04],
    [628.66, 628.92, 628.54, 628.81, 628.71, 628.96, 628.58, 628.85, 628.62, 628.77, 628.51, 628.89, 628.68, 628.83,
     628.56, 628.94, 628.73, 628.64, 628.87, 628.53, 628.79, 628.98, 628.60, 628.75, 628.91],
]

# ---------------- assemble ----------------
adc = list(adc_sparse)
tdc = list(tdc_sparse[:len(adc_sparse)])
for ab, tb in zip(adc_bands, tdc_bands):
    for a, t in zip(ab, tb):
        adc.append(a)
        tdc.append(t)

W, H = 832, 567
ML, MR, MT, MB = 88, 78, 63, 54
PW, PH = W - ML - MR, H - MT - MB


def fx(px):
    return (px - ML) / PW


def fy(py):
    return (H - MB - py) / PH


FONT = "Liberation Sans, Arial, Helvetica, sans-serif"
BG = "#f2f2f2"

fig = go.Figure()
fig.add_trace(go.Scatter(
    x=adc, y=tdc, mode="markers",
    marker=dict(size=2, symbol="square", color="black", line=dict(width=0)),
    hoverinfo="skip", showlegend=False,
))

axis_common = dict(
    showgrid=False, zeroline=False, showline=True, mirror=True,
    linecolor="#333333", linewidth=1.5, ticks="inside", tickcolor="#333333",
    tickwidth=1, tickfont=dict(family=FONT, size=20, color="#111111", weight="bold"),
)
fig.update_xaxes(range=x_range, tick0=380, dtick=20, ticklen=13,
                 minor=dict(dtick=5, tick0=380, ticklen=7, ticks="inside", tickcolor="#333333", tickwidth=1),
                 **axis_common)
fig.update_yaxes(range=y_range, tick0=624, dtick=2, ticklen=21,
                 minor=dict(dtick=0.5, tick0=624, ticklen=11, ticks="inside", tickcolor="#333333", tickwidth=1),
                 **axis_common)

shapes = []
# window decoration: dark strip on top, blue-grey strip on left, yellow border
shapes.append(dict(type="rect", xref="paper", yref="paper", x0=fx(0), x1=fx(W), y0=fy(0), y1=fy(6),
                   fillcolor="#1e1f3d", line=dict(width=0), layer="above"))
shapes.append(dict(type="rect", xref="paper", yref="paper", x0=fx(0), x1=fx(53), y0=fy(0), y1=fy(6),
                   fillcolor="#475d78", line=dict(width=0), layer="above"))
shapes.append(dict(type="rect", xref="paper", yref="paper", x0=fx(0), x1=fx(4), y0=fy(0), y1=fy(H),
                   fillcolor="#475d78", line=dict(width=0), layer="above"))
shapes.append(dict(type="rect", xref="paper", yref="paper", x0=fx(4), x1=fx(W), y0=fy(6), y1=fy(8),
                   fillcolor="#ffff00", line=dict(width=0), layer="above"))
shapes.append(dict(type="rect", xref="paper", yref="paper", x0=fx(4), x1=fx(6), y0=fy(6), y1=fy(H),
                   fillcolor="#ffff00", line=dict(width=0), layer="above"))
# title box with shadow
shapes.append(dict(type="rect", xref="paper", yref="paper", x0=fx(14), x1=fx(594), y0=fy(11), y1=fy(40),
                   fillcolor="#2a2a2a", line=dict(width=0), layer="above"))
shapes.append(dict(type="rect", xref="paper", yref="paper", x0=fx(12), x1=fx(591.5), y0=fy(9), y1=fy(37.5),
                   fillcolor="#f4f4f4", line=dict(color="#111111", width=1), layer="above"))
# red marker box on the right edge
shapes.append(dict(type="rect", xref="paper", yref="paper", x0=fx(740.5), x1=fx(W + 2), y0=fy(258), y1=fy(315),
                   fillcolor="#ff0000", line=dict(width=0), layer="above"))

annotations = [
    dict(text=title_text, xref="paper", yref="paper", x=fx(303.5), y=fy(24), xanchor="center", yanchor="middle",
         showarrow=False, font=dict(family=FONT, size=24, color="#111111", weight="bold")),
    dict(text=y_title, xref="paper", yref="paper", x=fx(31), y=fy(178), xanchor="center", yanchor="middle",
         textangle=-90, showarrow=False, font=dict(family=FONT, size=25, color="#111111")),
    dict(text=x_title, xref="paper", yref="paper", x=fx(772), y=fy(545), xanchor="center", yanchor="middle",
         showarrow=False, font=dict(family=FONT, size=25, color="#111111")),
]

fig.update_layout(
    width=W, height=H, autosize=False,
    margin=dict(l=ML, r=MR, t=MT, b=MB, pad=0),
    paper_bgcolor=BG, plot_bgcolor=BG,
    shapes=shapes, annotations=annotations,
    showlegend=False,
)

fig.write_html("out.html")
